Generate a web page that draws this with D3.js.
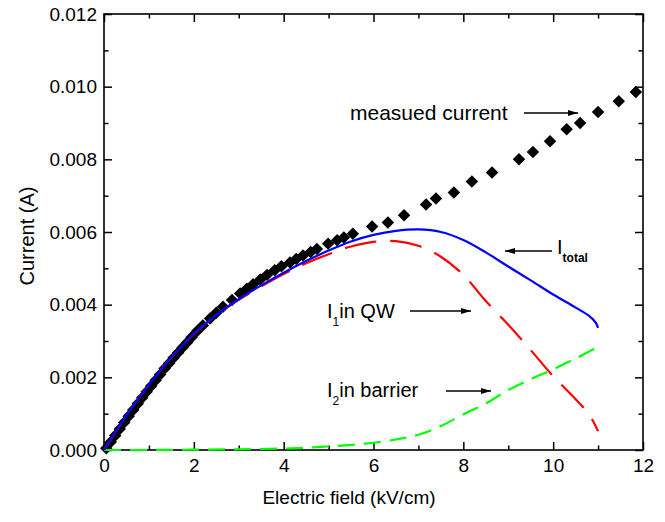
<!DOCTYPE html>
<html>
<head>
<meta charset="utf-8">
<script src="https://cdn.jsdelivr.net/npm/d3@7"></script>
<style>
  html, body { margin: 0; padding: 0; background: #fff; }
  svg { display: block; font-family: "Liberation Sans", Arial, sans-serif; }
</style>
</head>
<body>
<svg id="chart" width="665" height="522"></svg>
<script>
// ---- data ----
const measuredX = [0.05,0.15,0.25,0.35,0.45,0.55,0.65,0.75,0.85,0.95,1.05,1.15,1.25,1.35,1.45,1.55,1.65,1.75,1.85,1.95,2.08,2.2,2.36,2.5,2.65,2.85,3.03,3.18,3.32,3.48,3.63,3.8,3.95,4.14,4.28,4.43,4.6,4.74,4.99,5.19,5.34,5.54,5.97,6.32,6.68,7.17,7.39,7.79,8.19,8.64,9.24,9.55,9.93,10.3,10.6,11.0,11.46,11.84];
const measuredY = [0.00005,0.00022,0.0004,0.00058,0.00076,0.00093,0.0011,0.00127,0.00144,0.0016,0.00176,0.00192,0.00208,0.00224,0.00239,0.00254,0.00268,0.00282,0.00296,0.0031,0.00328,0.00343,0.00362,0.00378,0.00394,0.00413,0.00431,0.00444,0.00456,0.00469,0.00482,0.00495,0.00506,0.00516,0.00526,0.00535,0.00545,0.00553,0.00568,0.00577,0.00585,0.00595,0.00615,0.00626,0.00646,0.00676,0.00692,0.00709,0.00739,0.00764,0.008,0.0082,0.0085,0.00883,0.009,0.0093,0.0096,0.00985];

const totalX = [0,0.5,1.0,1.5,2.0,2.5,3.0,3.5,4.0,4.5,5.0,5.5,6.0,6.5,7.0,7.5,8.0,8.5,9.0,9.5,10.0,10.5,10.8,10.95,11.0];
const totalY = [0,0.00095,0.0018,0.00255,0.0032,0.00372,0.00415,0.00453,0.00488,0.0052,0.00549,0.00574,0.00592,0.00603,0.00607,0.006,0.00578,0.00544,0.00505,0.00467,0.00428,0.00392,0.00369,0.0035,0.00336];

const qwX = [0,0.5,1.0,1.5,2.0,2.5,3.0,3.5,4.0,4.5,5.0,5.5,6.0,6.5,7.0,7.5,8.0,8.5,9.0,9.5,10.0,10.5,10.8,11.0];
const qwY = [0,0.00095,0.0018,0.00255,0.00319,0.00371,0.00413,0.0045,0.00484,0.00514,0.00539,0.0056,0.00573,0.00575,0.00562,0.00532,0.00482,0.0041,0.00345,0.00275,0.00203,0.0014,0.00098,0.00052];

const barrierX = [0,1,2,3,4,4.5,5,5.5,6,6.5,7,7.5,8,8.5,9,9.5,10,10.5,11];
const barrierY = [0,0,0.00001,0.00002,0.00004,0.00006,0.0001,0.00014,0.0002,0.00029,0.00042,0.00066,0.00098,0.00128,0.00165,0.00195,0.00222,0.00252,0.00284];

const xMajorTicks = [0,2,4,6,8,10,12];
const xMinorTicks = [1,3,5,7,9,11];
const yMajorTicks = [0,0.002,0.004,0.006,0.008,0.010,0.012];
const yMinorTicks = [0.001,0.003,0.005,0.007,0.009,0.011];

const xTitle = "Electric field (kV/cm)";
const yTitle = "Current (A)";

// ---- layout ----
const svg = d3.select("#chart");
const L = 104, R = 643, T = 14, B = 450;
const x = d3.scaleLinear().domain([0,12]).range([L,R]);
const y = d3.scaleLinear().domain([0,0.012]).range([B,T]);

const tickFont = "19px";

function styleAxis(g){
  g.select(".domain").remove();
  g.selectAll("line").attr("stroke","#000").attr("stroke-width",1.5);
}

// bottom axis
svg.append("g").attr("transform",`translate(0,${B})`)
  .call(d3.axisBottom(x).tickValues(xMajorTicks).tickSizeInner(-8).tickSizeOuter(0).tickPadding(9).tickFormat(d3.format("d")))
  .call(styleAxis)
  .call(g=>g.selectAll("text").attr("font-size",tickFont).attr("fill","#000").attr("font-family","Liberation Sans, Arial, sans-serif"));
svg.append("g").attr("transform",`translate(0,${B})`)
  .call(d3.axisBottom(x).tickValues(xMinorTicks).tickSizeInner(-4.5).tickSizeOuter(0).tickFormat(""))
  .call(styleAxis);
// top axis
svg.append("g").attr("transform",`translate(0,${T})`)
  .call(d3.axisTop(x).tickValues(xMajorTicks).tickSizeInner(-8).tickSizeOuter(0).tickFormat(""))
  .call(styleAxis);
svg.append("g").attr("transform",`translate(0,${T})`)
  .call(d3.axisTop(x).tickValues(xMinorTicks).tickSizeInner(-4.5).tickSizeOuter(0).tickFormat(""))
  .call(styleAxis);
// left axis
svg.append("g").attr("transform",`translate(${L},0)`)
  .call(d3.axisLeft(y).tickValues(yMajorTicks).tickSizeInner(-8).tickSizeOuter(0).tickPadding(7).tickFormat(d3.format(".3f")))
  .call(styleAxis)
  .call(g=>g.selectAll("text").attr("font-size",tickFont).attr("fill","#000").attr("font-family","Liberation Sans, Arial, sans-serif"));
svg.append("g").attr("transform",`translate(${L},0)`)
  .call(d3.axisLeft(y).tickValues(yMinorTicks).tickSizeInner(-4.5).tickSizeOuter(0).tickFormat(""))
  .call(styleAxis);
// right axis
svg.append("g").attr("transform",`translate(${R},0)`)
  .call(d3.axisRight(y).tickValues(yMajorTicks).tickSizeInner(-8).tickSizeOuter(0).tickFormat(""))
  .call(styleAxis);
svg.append("g").attr("transform",`translate(${R},0)`)
  .call(d3.axisRight(y).tickValues(yMinorTicks).tickSizeInner(-4.5).tickSizeOuter(0).tickFormat(""))
  .call(styleAxis);

// frame
svg.append("rect").attr("x",L).attr("y",T).attr("width",R-L).attr("height",B-T)
  .attr("fill","none").attr("stroke","#000").attr("stroke-width",1.6);

// axis titles
svg.append("text").attr("x",349).attr("y",504).attr("text-anchor","middle")
  .attr("font-size","19px").attr("fill","#000").text(xTitle);
svg.append("text").attr("transform","translate(34,236) rotate(-90)").attr("text-anchor","middle")
  .attr("font-size","20px").attr("fill","#000").text(yTitle);

// ---- marks ----
const measured = measuredX.map((v,i)=>({x:v,y:measuredY[i]}));
svg.append("g").selectAll("path").data(measured).join("path")
  .attr("d", d3.symbol(d3.symbolSquare, 78)())
  .attr("transform", d=>`translate(${x(d.x)},${y(d.y)}) rotate(45)`)
  .attr("fill","#000");

const line = d3.line().x(d=>x(d.x)).y(d=>y(d.y)).curve(d3.curveCatmullRom.alpha(0.5));

const barrier = barrierX.map((v,i)=>({x:v,y:barrierY[i]}));
const qw = qwX.map((v,i)=>({x:v,y:qwY[i]}));
const total = totalX.map((v,i)=>({x:v,y:totalY[i]}));

svg.append("path").datum(barrier).attr("d",line).attr("fill","none")
  .attr("stroke","#00ff00").attr("stroke-width",2.2).attr("stroke-dasharray","17,9");
svg.append("path").datum(qw).attr("d",line).attr("fill","none")
  .attr("stroke","#ff0000").attr("stroke-width",2.2).attr("stroke-dasharray","32,14");
svg.append("path").datum(total).attr("d",line).attr("fill","none")
  .attr("stroke","#0000ff").attr("stroke-width",2.2);

// ---- annotations ----
const defs = svg.append("defs");
defs.append("marker").attr("id","arrow").attr("viewBox","0 0 10 6").attr("refX",10).attr("refY",3)
  .attr("markerWidth",10).attr("markerHeight",6).attr("markerUnits","userSpaceOnUse").attr("orient","auto")
  .append("path").attr("d","M0,0 L10,3 L0,6 Z").attr("fill","#000");

function arrow(x1,y1,x2,y2){
  svg.append("line").attr("x1",x1).attr("y1",y1).attr("x2",x2).attr("y2",y2)
    .attr("stroke","#000").attr("stroke-width",1.5).attr("marker-end","url(#arrow)");
}

svg.append("text").attr("x",350).attr("y",120).attr("font-size","21px").attr("fill","#000").text("measued current");
arrow(524,113,578,113);

const tt = svg.append("text").attr("x",557).attr("y",254).attr("fill","#000");
tt.append("tspan").attr("font-size","20px").text("I");
tt.append("tspan").attr("font-size","12px").attr("font-weight","bold").attr("dy",8).text("total");
arrow(552,251,505,251);

const t1 = svg.append("text").attr("x",327).attr("y",318).attr("fill","#000");
t1.append("tspan").attr("font-size","20px").text("I");
t1.append("tspan").attr("font-size","12px").attr("dy",8).text("1");
t1.append("tspan").attr("font-size","20px").attr("dy",-8).text("in QW");
arrow(410,311,471,311);

const t2 = svg.append("text").attr("x",327).attr("y",397).attr("fill","#000");
t2.append("tspan").attr("font-size","20px").text("I");
t2.append("tspan").attr("font-size","12px").attr("dy",8).text("2");
t2.append("tspan").attr("font-size","20px").attr("dy",-8).text("in barrier");
arrow(446,391,491,391);
</script>
</body>
</html>
